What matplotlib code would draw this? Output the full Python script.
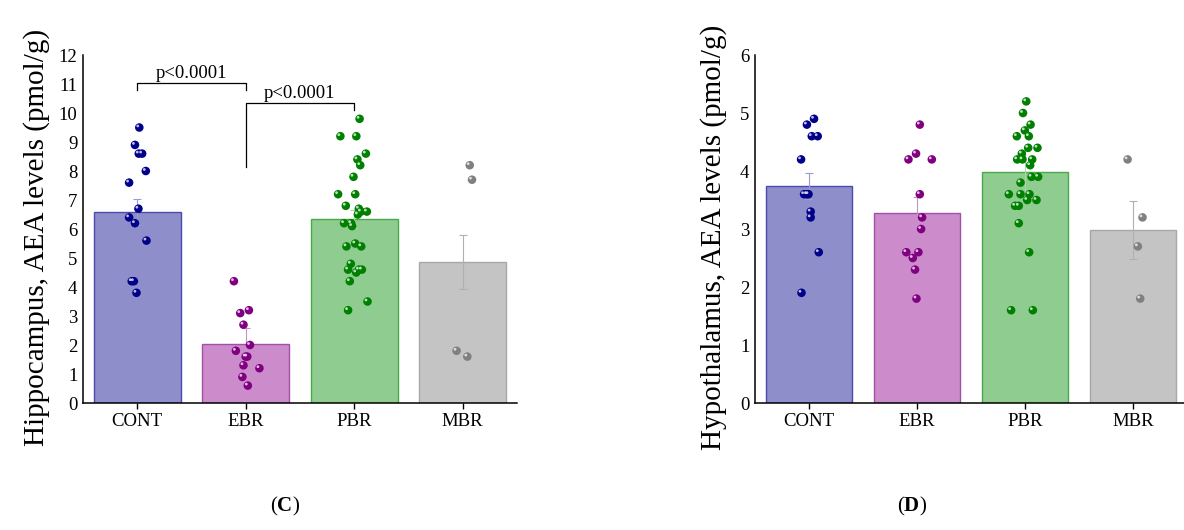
"""Hippocampus / hypothalamus AEA levels, bar + dot plots (panels C and D)."""

import matplotlib
matplotlib.use("Agg")
import matplotlib.pyplot as plt
import matplotlib.transforms as mtransforms

plt.rcParams['font.family'] = ['Liberation Serif', 'DejaVu Serif']
plt.rcParams['mathtext.fontset'] = 'custom'
plt.rcParams['mathtext.rm'] = 'Liberation Serif'
plt.rcParams['mathtext.bf'] = 'Liberation Serif:bold'

groups = ["CONT", "EBR", "PBR", "MBR"]

# Panel C: hippocampus
hip_means = [6.6, 2.05, 6.35, 4.86]
hip_sem = [0.45, 0.52, 0.32, 0.92]
hip_cont = [9.5, 8.9, 8.6, 8.6, 8.0, 7.6, 6.7, 6.4, 6.2, 5.6, 4.2, 4.2, 3.8]
hip_cont_jit = [0.02, -0.02, 0.015, 0.046, 0.08, -0.074, 0.012, -0.074, -0.02, 0.086, -0.05, -0.03, -0.006]
hip_ebr = [4.2, 3.1, 3.2, 2.7, 2.0, 1.8, 1.6, 1.6, 1.3, 1.2, 0.9, 0.6]
hip_ebr_jit = [-0.108, -0.05, 0.03, -0.02, 0.04, -0.09, 0.0, 0.015, -0.02, 0.127, -0.03, 0.02]
hip_pbr = [9.8, 9.2, 9.2, 8.6, 8.4, 8.2, 7.8, 7.2, 7.2, 6.8, 6.7, 6.6, 6.6, 6.5,
           6.2, 6.2, 6.1, 5.4, 5.5, 5.4, 4.8, 4.6, 4.5, 4.6, 4.6, 4.2, 3.5, 3.2]
hip_pbr_jit = [0.05, -0.127, 0.02, 0.108, 0.03, 0.056, -0.006, -0.148, 0.01, -0.077,
               0.043, 0.062, 0.117, 0.034, -0.093, -0.028, -0.019, -0.071, 0.01, 0.065,
               -0.031, -0.056, 0.019, 0.043, 0.071, -0.04, 0.123, -0.056]
hip_mbr = [8.2, 7.7, 1.8, 1.6]
hip_mbr_jit = [0.065, 0.086, -0.056, 0.043]

# Panel D: hypothalamus
hyp_means = [3.74, 3.27, 3.99, 2.99]
hyp_sem = [0.22, 0.28, 0.35, 0.5]
hyp_cont = [4.9, 4.8, 4.6, 4.6, 4.2, 3.6, 3.6, 3.6, 3.3, 3.2, 2.6, 1.9]
hyp_cont_jit = [0.046, -0.02, 0.025, 0.08, -0.074, -0.046, -0.02, -0.005, 0.015, 0.015, 0.09, -0.07]
hyp_ebr = [4.8, 4.3, 4.2, 4.2, 3.6, 3.2, 3.0, 2.6, 2.6, 2.5, 2.3, 1.8]
hyp_ebr_jit = [0.025, -0.01, -0.08, 0.136, 0.025, 0.046, 0.037, -0.1, 0.012, -0.04, -0.019, -0.006]
hyp_pbr = [5.2, 5.0, 4.8, 4.7, 4.6, 4.6, 4.4, 4.4, 4.3, 4.2, 4.2, 4.2, 4.1, 3.9,
           3.9, 3.8, 3.6, 3.6, 3.6, 3.5, 3.5, 3.4, 3.4, 3.1, 2.6, 1.6, 1.6]
hyp_pbr_jit = [0.01, -0.02, 0.05, -0.003, -0.077, 0.034, 0.028, 0.114, -0.031, -0.074,
               -0.025, 0.065, 0.046, 0.059, 0.12, -0.043, -0.151, -0.043, 0.04, 0.019,
               0.105, -0.093, -0.059, -0.059, 0.037, -0.13, 0.071]
hyp_mbr = [4.2, 3.2, 2.7, 1.8]
hyp_mbr_jit = [-0.052, 0.086, 0.043, 0.065]

bar_fill = ["#8e8ecb", "#cc8ccc", "#8fcc8f", "#c4c4c4"]
bar_edge = ["#4b4bb0", "#a050a8", "#4aaa4a", "#a8a8a8"]
err_color = ["#9a9ad8", "#c890c8", "#a8d8a8", "#b0b0b0"]
dot_color = ["#00008b", "#800080", "#008000", "#808080"]


def draw_panel(ax, means, sems, points, jitters, ymax, ylabel):
    x = range(len(groups))
    ax.bar(x, means, width=0.8, color=bar_fill, edgecolor=bar_edge, linewidth=1.0, zorder=1)
    for i in x:
        ax.errorbar(i, means[i], yerr=sems[i], fmt='none', ecolor=err_color[i],
                    elinewidth=0.8, capsize=3, capthick=0.8, zorder=2)
    # small white offset marker gives the spheres a highlight
    hl = mtransforms.offset_copy(ax.transData, fig=ax.figure, x=-1.1, y=1.1, units='points')
    for i, (vals, jit) in enumerate(zip(points, jitters)):
        xs = [i + j for j in jit]
        ax.scatter(xs, vals, s=38, color=dot_color[i], edgecolors='none', zorder=3)
        ax.scatter(xs, vals, s=4, color='white', alpha=0.75, edgecolors='none',
                   transform=hl, zorder=4)

    ax.set_xlim(-0.5, 3.5)
    ax.set_ylim(0, ymax)
    ax.set_yticks(range(0, ymax + 1))
    ax.set_xticks(list(x))
    ax.set_xticklabels(groups)
    ax.tick_params(axis='y', length=0, pad=4, labelsize=13.5)
    ax.tick_params(axis='x', length=4.5, width=1, pad=3, labelsize=13.5)
    for side in ("top", "right"):
        ax.spines[side].set_visible(False)
    for side in ("left", "bottom"):
        ax.spines[side].set_linewidth(1.1)
    ax.set_ylabel(ylabel, fontsize=21)


fig = plt.figure(figsize=(11.84, 5.30), dpi=100)
ax1 = fig.add_axes([0.070, 0.2396, 0.3666, 0.6566])
ax2 = fig.add_axes([0.6377, 0.2396, 0.3623, 0.6566])

draw_panel(ax1, hip_means, hip_sem, [hip_cont, hip_ebr, hip_pbr, hip_mbr],
           [hip_cont_jit, hip_ebr_jit, hip_pbr_jit, hip_mbr_jit], 12,
           "Hippocampus, AEA levels (pmol/g)")
ax1.yaxis.set_label_coords(-0.076, 0.475)
draw_panel(ax2, hyp_means, hyp_sem, [hyp_cont, hyp_ebr, hyp_pbr, hyp_mbr],
           [hyp_cont_jit, hyp_ebr_jit, hyp_pbr_jit, hyp_mbr_jit], 6,
           "Hypothalamus, AEA levels (pmol/g)")
ax2.set_xlim(-0.5, 3.47)
ax2.yaxis.set_label_coords(-0.065, 0.475)

# significance brackets (panel C)
ax1.plot([0, 0, 1, 1], [10.8, 11.02, 11.02, 10.8], color='black', lw=0.9, clip_on=False)
ax1.text(0.5, 11.08, "p<0.0001", ha='center', va='bottom', fontsize=13.5)
ax1.plot([1, 1, 2, 2], [8.15, 10.33, 10.33, 10.12], color='black', lw=0.9, clip_on=False)
ax1.text(1.5, 10.39, "p<0.0001", ha='center', va='bottom', fontsize=13.5)

fig.text(0.2407, 0.045, r"($\mathbf{C}$)", ha='center', va='center', fontsize=15)
fig.text(0.7703, 0.045, r"($\mathbf{D}$)", ha='center', va='center', fontsize=15)

fig.savefig("out.png", dpi=100)
plt.close(fig)
